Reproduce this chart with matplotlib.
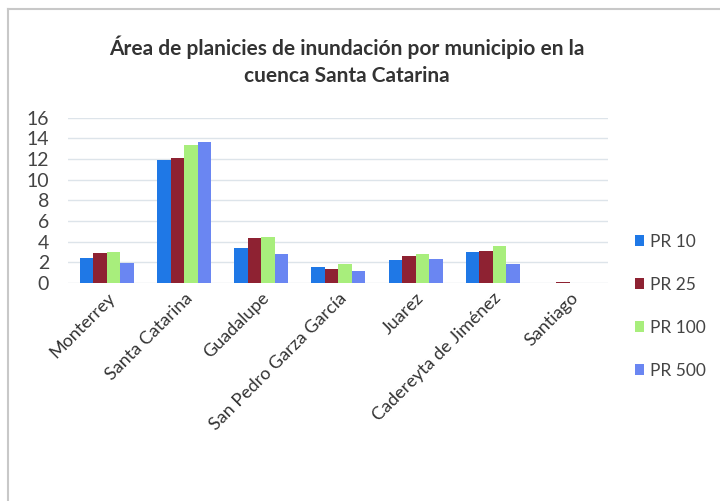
import numpy as np
import matplotlib
matplotlib.use('Agg')
import matplotlib.pyplot as plt
from matplotlib.lines import Line2D

plt.rcParams['font.family'] = ['Lato', 'DejaVu Sans']

municipios = ['Monterrey', 'Santa Catarina', 'Guadalupe', 'San Pedro Garza García',
              'Juarez', 'Cadereyta de Jiménez', 'Santiago']
series = ['PR 10', 'PR 25', 'PR 100', 'PR 500']
pr10 = [2.4, 11.95, 3.35, 1.55, 2.2, 3.05, 0.02]
pr25 = [2.9, 12.1, 4.4, 1.4, 2.6, 3.15, 0.1]
pr100 = [3.0, 13.4, 4.5, 1.8, 2.85, 3.6, 0.03]
pr500 = [1.95, 13.7, 2.85, 1.15, 2.35, 1.85, 0.02]
colores = ['#1f78e6', '#8e2232', '#a8ee7c', '#6a86f2']
yticks = [0, 2, 4, 6, 8, 10, 12, 14, 16]

fig = plt.figure(figsize=(7.2, 5.01), dpi=100)
ax = fig.add_axes([0.095, 0.435, 0.75, 0.33])

x = np.arange(len(municipios))
w = 0.175
for i, (vals, nombre) in enumerate(zip([pr10, pr25, pr100, pr500], series)):
    ax.bar(x + (i - 1.5) * w, vals, w, color=colores[i], label=nombre, zorder=3)

ax.set_ylim(0, 16)
ax.set_xlim(-0.5, len(municipios) - 0.5)
ax.set_yticks(yticks)
ax.set_yticklabels([str(v) for v in yticks], fontsize=14, color='#444444')
ax.tick_params(axis='y', length=0, pad=14)
ax.tick_params(axis='x', length=0, pad=5)
ax.set_xticks(x)
ax.set_xticklabels(municipios, rotation=45, ha='right', va='top',
                   rotation_mode='anchor', fontsize=13, color='#333333')
ax.grid(axis='y', color='#dde4ea', linewidth=1, zorder=0)
for s in ax.spines.values():
    s.set_visible(False)

ax.legend(loc='center left', bbox_to_anchor=(1.02, -0.14), frameon=False,
          fontsize=12.5, handlelength=0.55, handleheight=0.55, handletextpad=0.3,
          labelspacing=1.55, labelcolor='#444444')

fig.suptitle('Área de planicies de inundación por municipio en la\ncuenca Santa Catarina',
             x=0.481, y=0.93, fontsize=15, fontweight='bold', color='#333333',
             linespacing=1.45)

# marco del gráfico: solo borde superior e izquierdo
fig.add_artist(Line2D([0.011, 1.0], [0.982, 0.982], transform=fig.transFigure,
                      color='#c8c8c8', linewidth=1.5))
fig.add_artist(Line2D([0.011, 0.011], [0.0, 0.982], transform=fig.transFigure,
                      color='#c8c8c8', linewidth=1.5))

fig.savefig('out.png', dpi=100)
